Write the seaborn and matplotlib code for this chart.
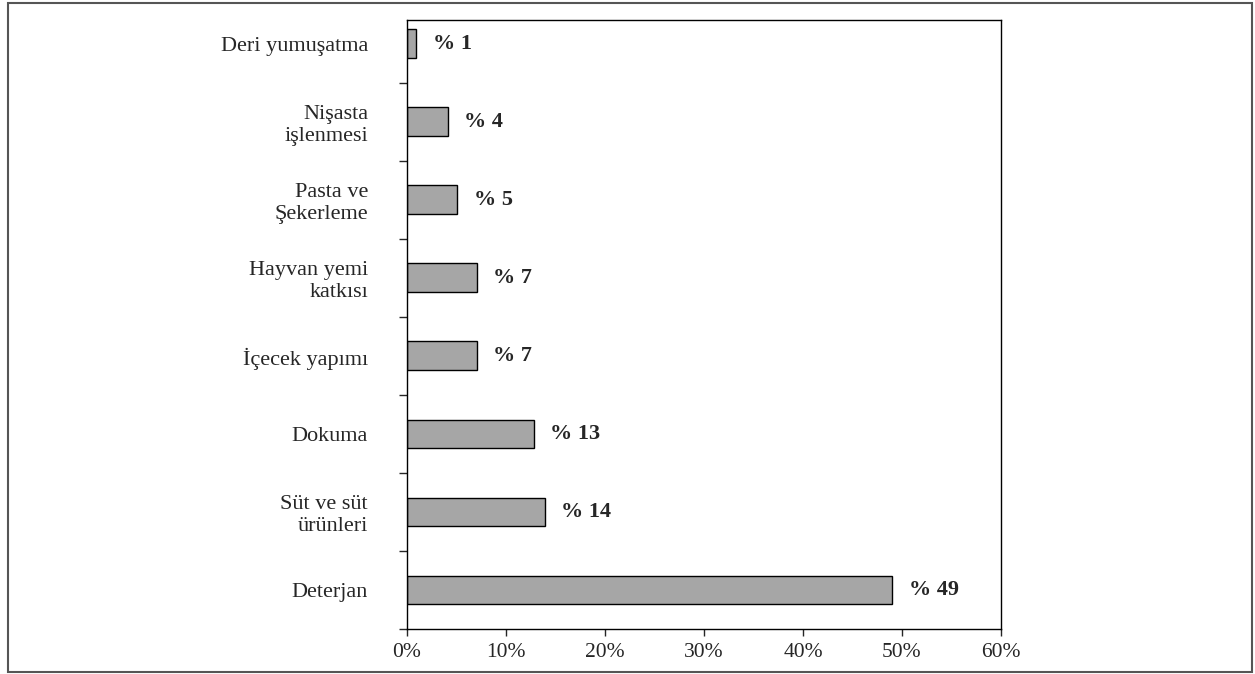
import numpy as np
import pandas as pd
import seaborn as sns
import matplotlib.pyplot as plt
from matplotlib.patches import Rectangle
from matplotlib.ticker import FixedLocator, PercentFormatter

# data
categories = ['Deri yumuşatma', 'Nişasta\nişlenmesi', 'Pasta ve\nŞekerleme',
              'Hayvan yemi\nkatkısı', 'İçecek yapımı', 'Dokuma',
              'Süt ve süt\nürünleri', 'Deterjan']
shares = [0.95, 4.1, 5.05, 7.05, 7.05, 12.8, 13.9, 49.0]
share_labels = ['% 1', '% 4', '% 5', '% 7', '% 7', '% 13', '% 14', '% 49']
x_ticks = [0, 10, 20, 30, 40, 50, 60]

sns.set_style('white')
plt.rcParams['font.family'] = ['Liberation Serif', 'DejaVu Serif']

df = pd.DataFrame({'kategori': categories, 'pay': shares})

fig = plt.figure(figsize=(12.55, 6.74), dpi=100)
ax = fig.add_axes([0.3243, 0.0668, 0.4733, 0.904])

sns.barplot(data=df, x='pay', y='kategori', orient='h', color='#a6a6a6',
            saturation=1, edgecolor='black', linewidth=1, width=0.37, ax=ax)

for i, (v, lab) in enumerate(zip(shares, share_labels)):
    ax.annotate(lab, (v, i), xytext=(12, 0), textcoords='offset points',
                ha='left', va='center', fontsize=16, fontweight='bold')

ax.set_xlim(0, 60)
# top of the plot cuts a bit into the first slot, as in the original
ax.set_ylim(len(categories) - 0.5, -0.31)
ax.set_xticks(x_ticks)
ax.xaxis.set_major_formatter(PercentFormatter(decimals=0))
ax.set_xlabel('')
ax.set_ylabel('')

# category labels without marks, marks on the category borders
ax.yaxis.set_minor_locator(FixedLocator(np.arange(0.5, len(categories), 1)))
ax.tick_params(axis='y', which='major', length=0, pad=28, labelsize=16)
ax.tick_params(axis='y', which='minor', left=True, length=6, width=1, direction='out')
ax.tick_params(axis='x', bottom=True, length=5, width=1, direction='out', labelsize=15.5, pad=5)
for lab in ax.get_yticklabels():
    lab.set_ha('right')
    lab.set_multialignment('right')

for s in ax.spines.values():
    s.set_visible(True)
    s.set_color('black')
    s.set_linewidth(1)

# outer frame round the whole picture
fig.patches.append(Rectangle((0.006, 0.003), 0.992, 0.992, transform=fig.transFigure,
                             fill=False, edgecolor='#555555', linewidth=1.5))

fig.savefig('out.png', dpi=100)
